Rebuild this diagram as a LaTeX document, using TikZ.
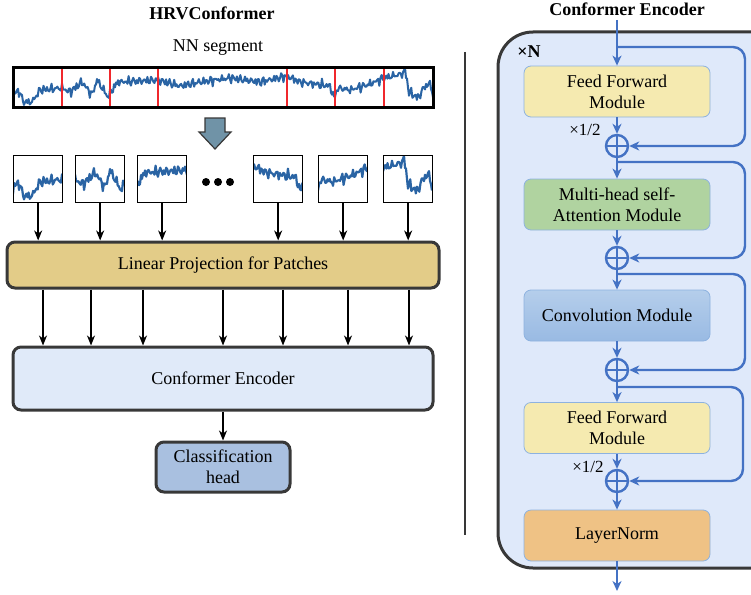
\documentclass[tikz,border=0pt]{standalone}
\usepackage{fontspec}
\setmainfont{Liberation Serif}
\usetikzlibrary{arrows.meta,calc}
\definecolor{sigblue}{HTML}{2A64A4}
\definecolor{lnblue}{HTML}{4472C4}
\definecolor{bdgray}{HTML}{383838}
\definecolor{lpfill}{HTML}{E3CC88}
\definecolor{cefill}{HTML}{E0EAF9}
\definecolor{chfill}{HTML}{A9C0E0}
\definecolor{outfill}{HTML}{DFE9FA}
\definecolor{fffill}{HTML}{F5EAB0}
\definecolor{mhfill}{HTML}{B0D3A0}
\definecolor{cvtop}{HTML}{B5CEEB}
\definecolor{cvbot}{HTML}{99BAE3}
\definecolor{lnfill}{HTML}{EFC285}
\definecolor{rbdr}{HTML}{8DB2E0}
\definecolor{bigarr}{HTML}{7093A7}
\definecolor{segred}{HTML}{F0282C}
\newcommand\hrvsignal[1]{%
  \draw[sig, line width=#1] (13,{96+nz(13)})
  \foreach \ta/\ua/\tb/\ub [evaluate=\ta as \ns using int((\tb-\ta)/1.2+2)] in
   {13/96/18/90, 18/90/24/102, 24/102/32/102, 32/102/40/90, 40/90/62/88,
    62/88/70/92, 70/92/82/82, 82/82/92/95, 92/95/97/80, 97/80/108/97,
    108/97/112/90, 112/90/118/82, 118/82/158/80, 158/80/180/86, 180/86/200/82,
    200/82/230/78, 230/78/260/82, 260/82/287/76, 287/76/300/82, 300/82/330/86,
    330/86/334/98, 334/98/338/88, 338/88/350/90, 350/90/370/84, 370/84/384/78,
    384/78/402/74, 402/74/405/70, 405/70/409/92, 409/92/418/98, 418/98/425/86,
    425/86/431/84, 431/84/433/98}
  { -- plot[domain=\ta:\tb, samples=\ns] (\x,{\ua+(\ub-\ua)*(\x-\ta)/(\tb-\ta)+nz(\x)}) };%
}
\begin{document}
\begin{tikzpicture}[x=1pt,y=-1pt,
  font=\fontsize{18}{21}\selectfont,
  declare function={nz(\qq)=1.0*(2.2*sin(97*mod(\qq,3.71134))+1.8*sin(61*mod(\qq,5.90164)+40)+1.5*sin(173*mod(\qq,2.08092))+1.2*sin(229*mod(\qq,1.57205)+10));},
  sig/.style={draw=sigblue, line join=round},
  lbox/.style={draw=bdgray, line width=3pt, rounded corners=8pt, align=center, inner sep=0pt},
  rbox/.style={draw=rbdr, line width=0.8pt, rounded corners=7pt, minimum width=186pt, minimum height=51pt, align=center, inner sep=0pt},
  patchbox/.style={draw=black, line width=1.3pt, minimum width=49pt, minimum height=47pt, inner sep=0pt},
  karr/.style={draw=black, line width=1.5pt, -{Stealth[length=10pt,width=8pt,inset=3pt]}},
  barr/.style={draw=lnblue, line width=2.4pt, -{Stealth[length=10pt,width=9pt,inset=3pt]}},
  bline/.style={rounded corners=12pt},
  plus/.style={circle, draw=lnblue, line width=2.4pt, minimum size=22pt, inner sep=0pt, fill=outfill,
    path picture={\draw[lnblue, line width=2.4pt] (path picture bounding box.north) -- (path picture bounding box.south) (path picture bounding box.west) -- (path picture bounding box.east);}},
  ttl/.style={font=\bfseries\fontsize{18}{21}\selectfont}
]
\useasboundingbox (0,0) rectangle (751,594);
% ---------------- left ----------------
\node[ttl] (t1) at (212,13) {HRVConformer};
\node (nn) at (218,48) {NN segment};
\begin{scope}
  \clip (13,67) rectangle (433,107);
  \hrvsignal{2pt}
\end{scope}
\foreach \x in {62,110,158,287,335,384} \draw[segred, line width=1.3pt] (\x,67) -- (\x,107);
\node[draw=black, line width=3pt, minimum width=420pt, minimum height=40pt, inner sep=0pt] (seg) at (223,87) {};
% big arrow
\draw[fill=bigarr, draw=bdgray, line width=1.2pt] (205,118) -- (225,118) -- (225,132) -- (231,132) -- (215,149) -- (199,132) -- (205,132) -- cycle;
% patches
\foreach \i/\L/\s in {1/13/13, 2/75/62, 3/137/110, 4/253/287, 5/318/335, 6/383/384} {
  \begin{scope}
    \clip (\L,155) rectangle ++(49,47);
    \begin{scope}[shift={(\L-\s,76.6)}, yscale=1.17]
      \hrvsignal{2.2pt}
    \end{scope}
  \end{scope}
  \node[patchbox, anchor=north west] (p\i) at (\L,155) {};
}
\foreach \x in {206,218,230} \fill (\x,182) circle (4pt);
\node[lbox, fill=lpfill, minimum width=432pt, minimum height=46pt] (lp) at (223,265) {Linear Projection for Patches};
\node[lbox, fill=cefill, minimum width=420pt, minimum height=63pt] (ce) at (223,378.5) {Conformer Encoder};
\node[lbox, fill=chfill, minimum width=134pt, minimum height=50pt] (ch) at (223,467) {Classification\\head};
\foreach \i in {1,...,6} \draw[karr] (p\i) -- (p\i |- lp.north);
\foreach \x [count=\i] in {43,91,143,223,283,348,409} {
  \coordinate (o\i) at (\x,300);
  \draw[karr] (lp.south -| o\i) -- (ce.north -| o\i);
}
\draw[karr] (ce) -- (ch);
% separator
\coordinate (s1) at (465,52);
\coordinate (s2) at (465,535);
\draw[bdgray, line width=2pt] (s1) -- (s2);
% ---------------- right ----------------
\draw[draw=bdgray, fill=outfill, line width=3pt, rounded corners=35pt] (498,32) rectangle (790,568);
\node[ttl] (t2) at (627,9) {Conformer Encoder};
\node[ttl] (xn) at (529,52) {×N};
\node[rbox, fill=fffill] (ff1) at (617,91.5) {Feed Forward\\Module};
\node[rbox, fill=mhfill] (mh) at (617,204.5) {Multi-head self-\\Attention Module};
\node[rbox, top color=cvtop, bottom color=cvbot] (cv) at (617,315.5) {Convolution Module};
\node[rbox, fill=fffill] (ff2) at (617,428) {Feed Forward\\Module};
\node[rbox, fill=lnfill] (ln) at (617,535.5) {LayerNorm};
\node[plus] (a1) at (617,146) {};
\node[plus] (a2) at (617,258) {};
\node[plus] (a3) at (617,370) {};
\node[plus] (a4) at (617,481) {};
\node[font=\fontsize{17}{20}\selectfont] (h1) at (585,130) {×1/2};
\node[font=\fontsize{17}{20}\selectfont] (h2) at (588,467) {×1/2};
\coordinate (in) at (617,20);
\coordinate (out) at (617,591);
\draw[barr] (in) -- (ff1);
\draw[barr] (ff1) -- (a1);
\draw[barr] (a1) -- (mh);
\draw[barr] (mh) -- (a2);
\draw[barr] (a2) -- (cv);
\draw[barr] (cv) -- (a3);
\draw[barr] (a3) -- (ff2);
\draw[barr] (ff2) -- (a4);
\draw[barr] (a4) -- (ln);
\draw[barr] (ln) -- (out);
\coordinate (b1) at (617,47);  \coordinate (r1) at (745,47);
\coordinate (b2) at (617,162); \coordinate (r2) at (745,162);
\coordinate (b3) at (617,274); \coordinate (r3) at (745,274);
\coordinate (b4) at (617,387); \coordinate (r4) at (743,387);
\draw[barr, bline] (b1) -- (r1) |- (a1);
\draw[barr, bline] (b2) -- (r2) |- (a2);
\draw[barr, bline] (b3) -- (r3) |- (a3);
\draw[barr, bline] (b4) -- (r4) |- (a4);
\end{tikzpicture}
\end{document}
